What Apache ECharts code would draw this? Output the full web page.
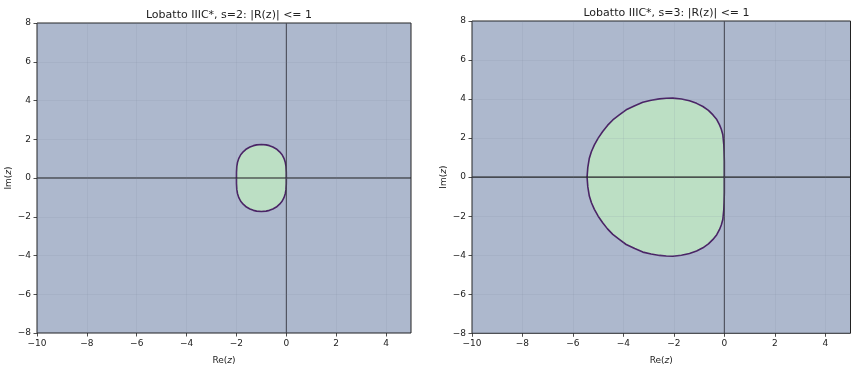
<!DOCTYPE html>
<html>
<head>
<meta charset="utf-8">
<script src="https://cdn.jsdelivr.net/npm/echarts@6/dist/echarts.min.js"></script>
<style>
html,body{margin:0;padding:0;background:#fff;}
#chart{width:851px;height:371px;}
</style>
</head>
<body>
<div id="chart"></div>
<script>
const titles = ['Lobatto IIIC*, s=2: |R(z)| <= 1', 'Lobatto IIIC*, s=3: |R(z)| <= 1'];
const xTicks = [-10, -8, -6, -4, -2, 0, 2, 4];
const yTicks = [-8, -6, -4, -2, 0, 2, 4, 6, 8];

// Boundary of |R(z)| <= 1, s=2
const s2Re = [0, -0.001, -0.014, -0.04, -0.09, -0.17, -0.27, -0.40, -0.54, -0.68, -0.81, -1.0,
              -1.19, -1.32, -1.46, -1.60, -1.73, -1.83, -1.91, -1.96, -1.986, -1.999, -2.0,
              -1.999, -1.986, -1.96, -1.91, -1.83, -1.73, -1.60, -1.46, -1.32, -1.19, -1.0,
              -0.81, -0.68, -0.54, -0.40, -0.27, -0.17, -0.09, -0.04, -0.014, -0.001];
const s2Im = [0, 0.3, 0.6, 0.8, 1.0, 1.2, 1.35, 1.5, 1.6, 1.67, 1.71, 1.73,
              1.71, 1.67, 1.6, 1.5, 1.35, 1.2, 1.0, 0.8, 0.6, 0.3, 0,
              -0.3, -0.6, -0.8, -1.0, -1.2, -1.35, -1.5, -1.6, -1.67, -1.71, -1.73,
              -1.71, -1.67, -1.6, -1.5, -1.35, -1.2, -1.0, -0.8, -0.6, -0.3];

// Boundary of |R(z)| <= 1, s=3
const s3Re = [0, 0, -0.01, -0.02, -0.06, -0.12, -0.19, -0.3, -0.45, -0.63,
              -0.85, -1.1, -1.38, -1.7, -2.04, -2.3, -2.57, -2.9, -3.23, -3.55,
              -3.89, -4.15, -4.42, -4.63, -4.82, -5.0, -5.15, -5.27, -5.35, -5.41, -5.44,
              -5.41, -5.35, -5.27, -5.15, -5.0, -4.82, -4.63, -4.42, -4.15, -3.89,
              -3.55, -3.23, -2.9, -2.57, -2.3, -2.04, -1.7, -1.38, -1.1, -0.85,
              -0.63, -0.45, -0.3, -0.19, -0.12, -0.06, -0.02, -0.01, 0];
const s3Im = [0, 0.8, 1.3, 1.65, 2.17, 2.45, 2.68, 2.95, 3.19, 3.42,
              3.62, 3.78, 3.91, 4.0, 4.05, 4.04, 4.01, 3.94, 3.84, 3.66,
              3.45, 3.2, 2.93, 2.65, 2.34, 2.0, 1.65, 1.3, 0.97, 0.5, 0,
              -0.5, -0.97, -1.3, -1.65, -2.0, -2.34, -2.65, -2.93, -3.2, -3.45,
              -3.66, -3.84, -3.94, -4.01, -4.04, -4.05, -4.0, -3.91, -3.78, -3.62,
              -3.42, -3.19, -2.95, -2.68, -2.45, -2.17, -1.65, -1.3, -0.8];

const FONT = 'DejaVu Sans';
const TXT = '#222';
const fmt = v => (v < 0 ? '\u2212' + Math.abs(v) : String(v));

const grids = [
  {left: 37, top: 23, width: 374, height: 310},
  {left: 472, top: 21, width: 378.5, height: 312.3}
];

function xAxisOf(i) {
  return {
    type: 'value', gridIndex: i, min: -10, max: 5, interval: 2, z: 3,
    name: 'Re({i|z})', nameLocation: 'middle', nameGap: 23,
    nameTextStyle: {fontFamily: FONT, fontSize: 9, color: TXT,
      rich: {i: {fontFamily: FONT, fontSize: 9, color: TXT, fontStyle: 'italic'}}},
    axisLine: {show: false, onZero: false},
    axisTick: {show: true, length: 3.5, customValues: xTicks, lineStyle: {color: TXT, width: 0.8}},
    axisLabel: {customValues: xTicks, formatter: fmt, fontFamily: FONT, fontSize: 9, color: TXT, margin: 6},
    splitLine: {show: true, lineStyle: {color: 'rgba(120,130,150,0.15)', width: 0.8}}
  };
}
function yAxisOf(i) {
  return {
    type: 'value', gridIndex: i, min: -8, max: 8, interval: 2, z: 3,
    name: 'Im({i|z})', nameLocation: 'middle', nameGap: 24,
    nameTextStyle: {fontFamily: FONT, fontSize: 9, color: TXT,
      rich: {i: {fontFamily: FONT, fontSize: 9, color: TXT, fontStyle: 'italic'}}},
    axisLine: {show: false, onZero: false},
    axisTick: {show: true, length: 3.5, customValues: yTicks, lineStyle: {color: TXT, width: 0.8}},
    axisLabel: {customValues: yTicks, formatter: fmt, fontFamily: FONT, fontSize: 9, color: TXT, margin: 6},
    splitLine: {show: true, lineStyle: {color: 'rgba(120,130,150,0.15)', width: 0.8}}
  };
}

function regionSeries(i, re, im) {
  return {
    type: 'custom', xAxisIndex: i, yAxisIndex: i, z: 2,
    data: re.map((x, k) => [x, im[k]]),
    renderItem: (params, api) => {
      if (params.dataIndex !== 0) return null;
      const pts = re.map((x, k) => api.coord([x, im[k]]));
      const h0 = api.coord([-10, 0]), h1 = api.coord([5, 0]);
      const v0 = api.coord([0, -8]), v1 = api.coord([0, 8]);
      return {
        type: 'group',
        children: [
          {type: 'polygon', shape: {points: pts},
           style: {fill: '#bcdfc4', stroke: '#4a2466', lineWidth: 1.6, lineJoin: 'round'}},
          {type: 'line', shape: {x1: h0[0], y1: h0[1], x2: h1[0], y2: h1[1]},
           style: {stroke: '#1c1c1c', lineWidth: 1.2}, z2: 10},
          {type: 'line', shape: {x1: v0[0], y1: v0[1], x2: v1[0], y2: v1[1]},
           style: {stroke: '#3c3c44', lineWidth: 1}, z2: 10}
        ]
      };
    }
  };
}

const chart = echarts.init(document.getElementById('chart'), null, {renderer: 'canvas'});
chart.setOption({
  animation: false,
  backgroundColor: '#ffffff',
  title: [
    {text: titles[0], left: 224, top: 5, textAlign: 'center',
     textStyle: {fontFamily: FONT, fontSize: 11, fontWeight: 'normal', color: TXT}},
    {text: titles[1], left: 661.5, top: 3, textAlign: 'center',
     textStyle: {fontFamily: FONT, fontSize: 11, fontWeight: 'normal', color: TXT}}
  ],
  grid: grids.map(g => Object.assign({show: true, backgroundColor: '#adb8cd', borderColor: '#222', borderWidth: 1}, g)),
  xAxis: [xAxisOf(0), xAxisOf(1)],
  yAxis: [yAxisOf(0), yAxisOf(1)],
  series: [regionSeries(0, s2Re, s2Im), regionSeries(1, s3Re, s3Im)]
});
</script>
</body>
</html>
